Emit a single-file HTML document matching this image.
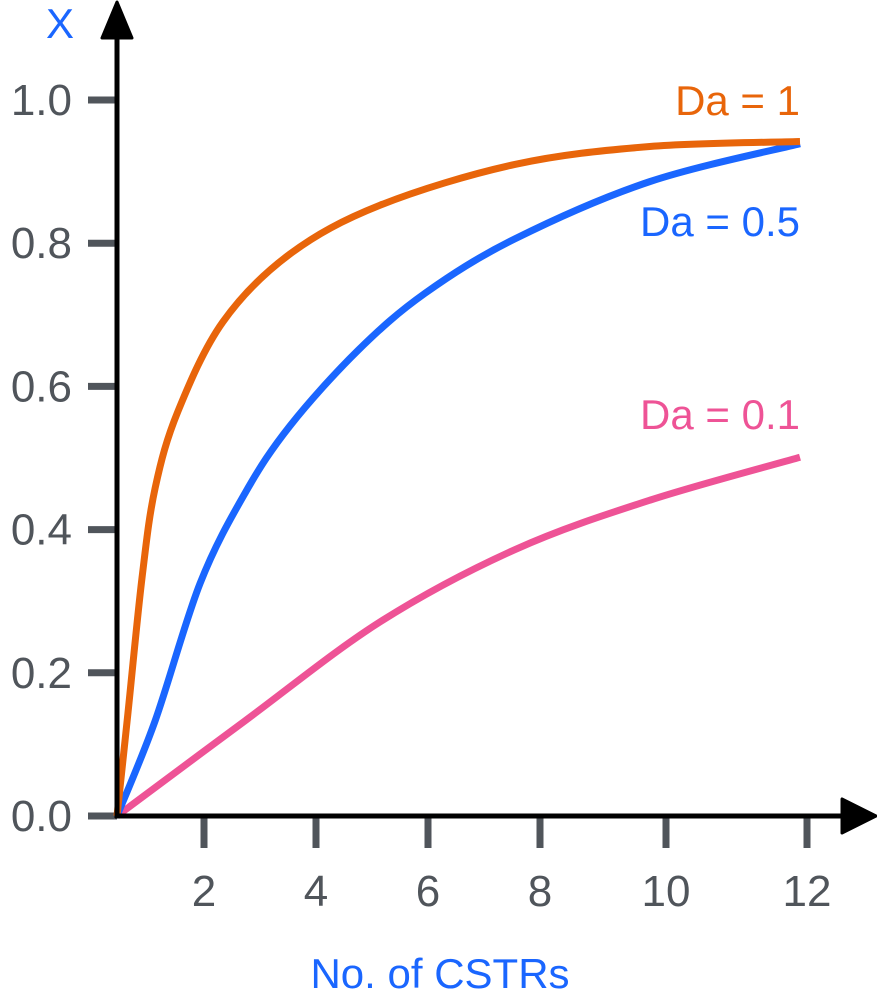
<!DOCTYPE html>
<html><head><meta charset="utf-8"><style>
html,body{margin:0;padding:0;background:#fff}
svg text{font-family:"Liberation Sans",sans-serif}
</style></head><body>
<svg id="chart" width="877" height="991" viewBox="0 0 877 991" xmlns="http://www.w3.org/2000/svg">
<g id="ticks"></g>
<g id="curves"></g>
<line x1="117" y1="818" x2="117" y2="30" stroke="#000" stroke-width="5"/>
<path d="M117 2 L102 38 L132 38 Z" fill="#000" stroke="#000" stroke-width="3" stroke-linejoin="round"/>
<line x1="115" y1="816" x2="850" y2="816" stroke="#000" stroke-width="5"/>
<path d="M876 816 L842 799 L842 833 Z" fill="#000" stroke="#000" stroke-width="3" stroke-linejoin="round"/>
<text x="60" y="38" font-size="42" fill="#1a66ff" text-anchor="middle">X</text>
<text x="440" y="988" font-size="42" fill="#1a66ff" text-anchor="middle">No. of CSTRs</text>
<text x="800" y="115" font-size="42" fill="#e8650a" text-anchor="end">Da = 1</text>
<text x="800" y="236" font-size="42" fill="#1a66ff" text-anchor="end">Da = 0.5</text>
<text x="800" y="429" font-size="42" fill="#ee5396" text-anchor="end">Da = 0.1</text>
</svg>
<script>
const xTicks=[2,4,6,8,10,12];
const yTicks=[0,0.2,0.4,0.6,0.8,1.0];
const nOrange=[0,0.19,0.44,0.67,1.07,1.86,3.04,4.62,6.99,9.36,12];
const da1=[0,0.142,0.333,0.458,0.565,0.69,0.785,0.853,0.91,0.935,0.942];
const nBlue=[0,0.67,1.46,2.25,3.04,4.23,5.41,6.99,9.36,12];
const da05=[0,0.133,0.325,0.451,0.545,0.65,0.73,0.806,0.886,0.939];
const nPink=[0,2.25,4.62,6.99,9.36,12];
const da01=[0,0.133,0.271,0.372,0.441,0.501];
const NS="http://www.w3.org/2000/svg";
function xs(v){return 117+v*(800-117)/12;}
const tickPx={2:204,4:316,6:428,8:540,10:666,12:807};
function ys(v){return 816-v*716;}
const tg=document.getElementById('ticks');
xTicks.forEach(t=>{
 const l=document.createElementNS(NS,'line');
 
 
 const x=tickPx[t]!==undefined?tickPx[t]:xs(t);
 l.setAttribute('x1',x);l.setAttribute('x2',x);l.setAttribute('y1',816);l.setAttribute('y2',848);
 l.setAttribute('stroke','#50555b');l.setAttribute('stroke-width','7');tg.appendChild(l);
 const tx=document.createElementNS(NS,'text');
 
 
 tx.setAttribute('x',x);tx.setAttribute('y',906);tx.setAttribute('font-size','44');tx.setAttribute('fill','#50555b');tx.setAttribute('text-anchor','middle');
 tx.textContent=t;tg.appendChild(tx);
});
yTicks.forEach(t=>{
 const y=ys(t);
 const l=document.createElementNS(NS,'line');
 
 
 l.setAttribute('x1',88);l.setAttribute('x2',117);l.setAttribute('y1',y);l.setAttribute('y2',y);
 l.setAttribute('stroke','#50555b');l.setAttribute('stroke-width','7');tg.appendChild(l);
 const tx=document.createElementNS(NS,'text');
 
 
 tx.setAttribute('x',72);tx.setAttribute('y',y+15);tx.setAttribute('font-size','44');tx.setAttribute('fill','#50555b');tx.setAttribute('text-anchor','end');
 tx.textContent=t.toFixed(1);tg.appendChild(tx);
});
function pathFor(ns,vals){
 const p=ns.map((n,i)=>[xs(n),ys(vals[i])]);
 let d='M'+p[0][0]+' '+p[0][1];
 for(let i=0;i<p.length-1;i++){
  const p0=p[Math.max(0,i-1)],p1=p[i],p2=p[i+1],p3=p[Math.min(p.length-1,i+2)];
  const c1=[p1[0]+(p2[0]-p0[0])/6,p1[1]+(p2[1]-p0[1])/6];
  const c2=[p2[0]-(p3[0]-p1[0])/6,p2[1]-(p3[1]-p1[1])/6];
  d+=` C${c1[0]} ${c1[1]} ${c2[0]} ${c2[1]} ${p2[0]} ${p2[1]}`;
 }
 return d;
}
const cg=document.getElementById('curves');
[[nPink,da01,'#ee5396','curve-da-0-1'],[nBlue,da05,'#1a66ff','curve-da-0-5'],[nOrange,da1,'#e8650a','curve-da-1']].forEach(s=>{
 const pa=document.createElementNS(NS,'path');
 
 
 pa.setAttribute('d',pathFor(s[0],s[1]));pa.setAttribute('fill','none');pa.setAttribute('stroke',s[2]);pa.setAttribute('stroke-width','7');
 cg.appendChild(pa);
});
</script>
</body></html>
